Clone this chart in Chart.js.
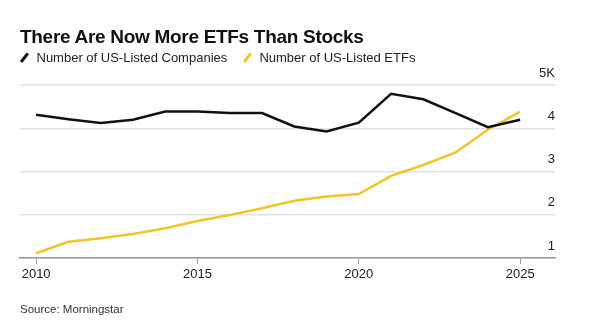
<!DOCTYPE html>
<html>
<head>
<meta charset="utf-8">
<script src="https://cdn.jsdelivr.net/npm/chart.js@4.4.1/dist/chart.umd.min.js"></script>
<style>
  html, body { margin: 0; padding: 0; background: #fff; }
  #wrap { position: relative; width: 600px; height: 322px; font-family: "Liberation Sans", Arial, sans-serif; color: #111; }
  #chart { position: absolute; left: 0; top: 0; }
  .title { position: absolute; left: 20px; top: 26px; font-size: 19px; font-weight: bold; letter-spacing: -0.3px; }
  .legend { position: absolute; left: 20px; top: 50px; font-size: 13px; color: #222; white-space: nowrap; }
  .legend span.item { margin-right: 12px; }
  .legend i { display: inline-block; width: 2.5px; height: 11px; transform: rotate(38deg); margin: 0 11px -1px 3px; }
  .source { position: absolute; left: 20px; top: 303px; font-size: 11.5px; color: #333; }
</style>
</head>
<body>
<div id="wrap">
  <canvas id="chart" width="600" height="322"></canvas>
  <div class="title">There Are Now More ETFs Than Stocks</div>
  <div class="legend">
    <span class="item"><i style="background:#111"></i>Number of US-Listed Companies</span>
    <span class="item"><i style="background:#f0c528"></i>Number of US-Listed ETFs</span>
  </div>
  <div class="source">Source: Morningstar</div>
</div>
<script>
const years = [2010, 2011, 2012, 2013, 2014, 2015, 2016, 2017, 2018, 2019, 2020, 2021, 2022, 2023, 2024, 2025];
const companies = [4310, 4210, 4120, 4195, 4385, 4385, 4350, 4350, 4040, 3925, 4130, 4795, 4670, 4350, 4025, 4195];
const etfs = [1110, 1375, 1455, 1555, 1690, 1855, 1995, 2150, 2325, 2420, 2480, 2900, 3150, 3440, 3965, 4385];
const yTicks = [1000, 2000, 3000, 4000, 5000];

const toPoints = (vals) => vals.map((v, i) => ({ x: years[i], y: v }));

const font = { family: "'Liberation Sans', Arial, sans-serif", size: 13 };

new Chart(document.getElementById("chart"), {
  type: "line",
  data: {
    datasets: [
      {
        label: "Number of US-Listed Companies",
        data: toPoints(companies),
        borderColor: "#111111",
        borderWidth: 2.5,
        pointRadius: 0,
        tension: 0,
      },
      {
        label: "Number of US-Listed ETFs",
        data: toPoints(etfs),
        borderColor: "#f0c528",
        borderWidth: 2.5,
        pointRadius: 0,
        tension: 0,
      },
    ],
  },
  options: {
    responsive: false,
    animation: false,
    layout: { padding: { left: 20, right: 45, top: 85, bottom: 0 } },
    plugins: {
      legend: { display: false },
      tooltip: { enabled: false },
    },
    scales: {
      x: {
        type: "linear",
        min: 2009.5,
        max: 2026.08,
        afterBuildTicks(scale) {
          scale.ticks = [2010, 2015, 2020, 2025].map((v) => ({ value: v }));
        },
        afterFit(scale) {
          scale.height = 64;
        },
        border: { display: true, color: "#9a9a9a", width: 1.5 },
        grid: {
          drawOnChartArea: false,
          drawTicks: true,
          tickLength: 6,
          tickColor: "#9a9a9a",
          lineWidth: 1,
        },
        ticks: {
          color: "#222",
          font,
          padding: 3,
          maxRotation: 0,
          callback: (v) => String(v),
        },
      },
      y: {
        position: "right",
        min: 1000,
        max: 5000,
        afterBuildTicks(scale) {
          scale.ticks = yTicks.map((v) => ({ value: v }));
        },
        afterFit(scale) {
          scale.width = 0;
        },
        border: { display: false },
        grid: {
          color: "#e2e2e2",
          lineWidth: 1.5,
          drawTicks: false,
        },
        ticks: {
          mirror: true,
          padding: 0,
          labelOffset: -12,
          color: "#222",
          font,
          callback: (v) => (v === 5000 ? "5K" : String(v / 1000)),
        },
      },
    },
  },
});
</script>
</body>
</html>
